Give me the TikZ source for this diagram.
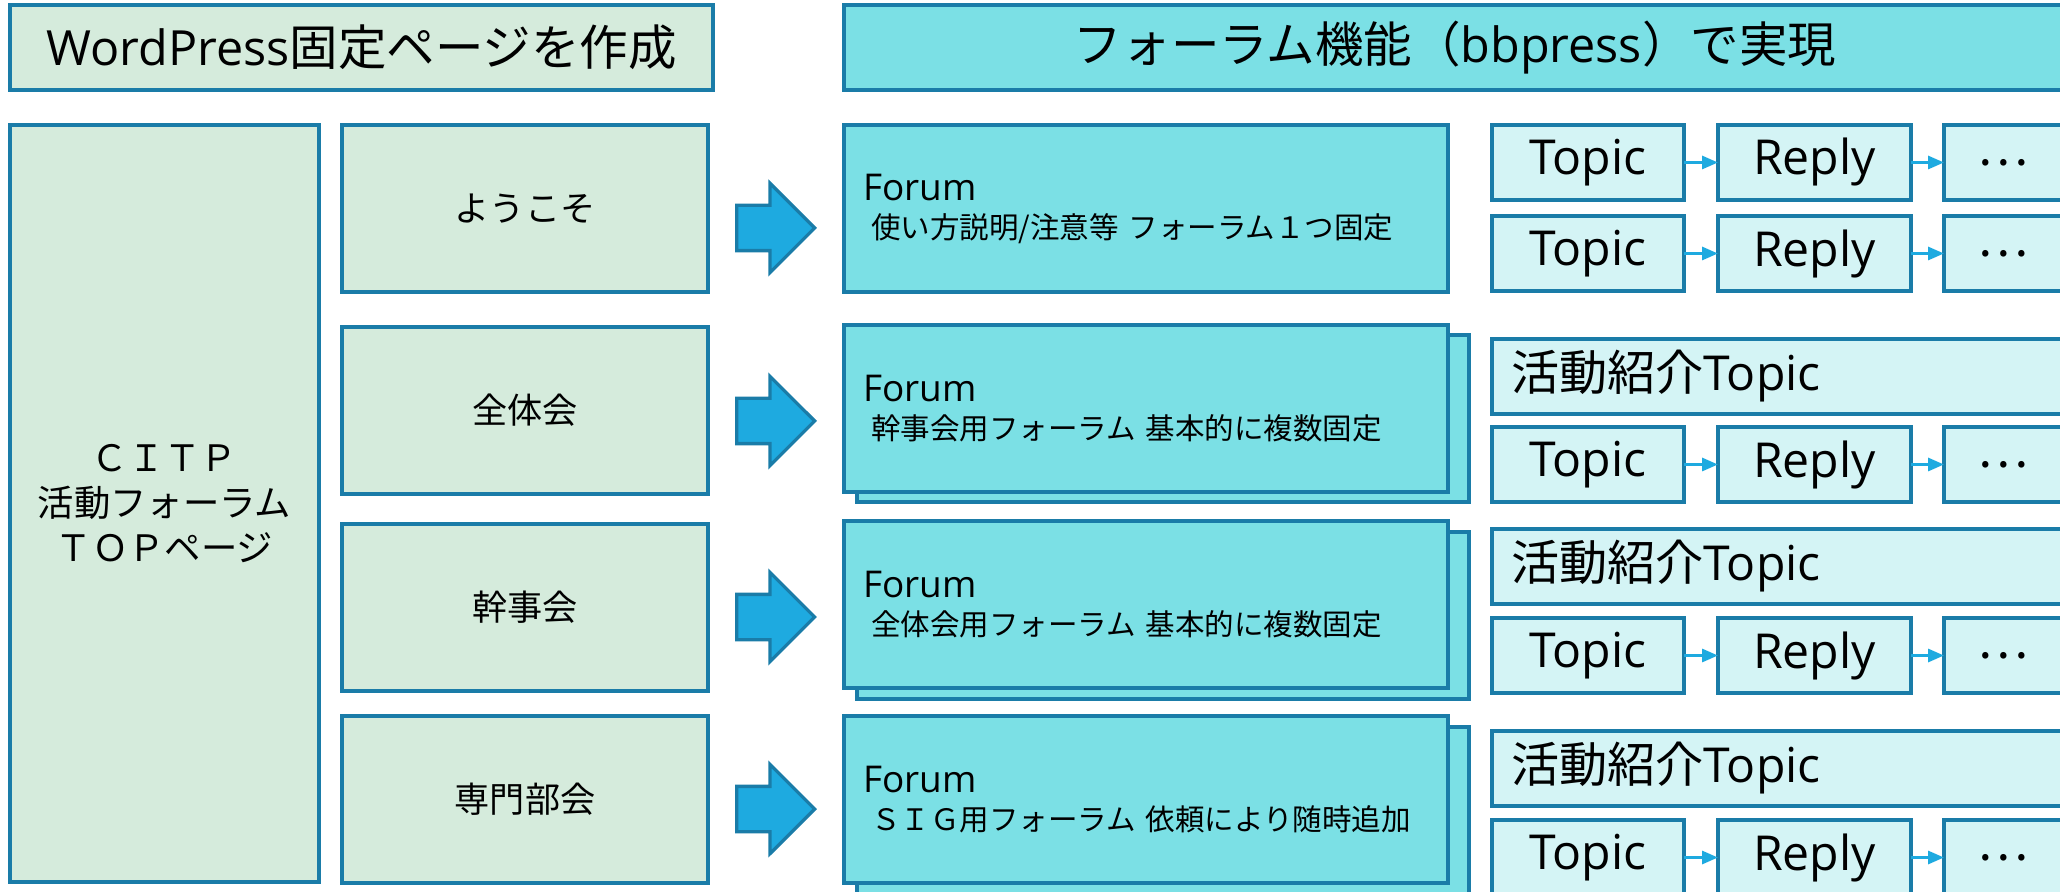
\documentclass[tikz,border=0pt]{standalone}
\usepackage{fontspec}
\setmainfont{Noto Sans CJK JP}
\newfontfamily\jpfont{Noto Sans CJK JP}
\newfontfamily\latin{Open Sans}
\usetikzlibrary{shapes.arrows,arrows.meta}

\definecolor{pagegreen}{RGB}{213,235,220}
\definecolor{edgeblue}{RGB}{26,124,168}
\definecolor{forumcyan}{RGB}{123,224,229}
\definecolor{topiccyan}{RGB}{212,244,245}
\definecolor{arrowblue}{RGB}{30,170,224}

\tikzset{
  cellbox/.style={draw=edgeblue, line width=0.33mm, inner sep=0pt, outer sep=0pt, anchor=north west},
  greenbox/.style={cellbox, fill=pagegreen},
  pagecell/.style={greenbox, minimum width=36.6mm, minimum height=16.7mm, font=\fontsize{10}{12}\selectfont},
  forumbox/.style={cellbox, fill=forumcyan},
  forumcell/.style={forumbox, minimum height=16.7mm, text width=56.6mm, inner xsep=1.9mm, align=left, font=\fontsize{8.4}{10.8}\selectfont},
  forumback/.style={forumbox, minimum width=61.2mm, minimum height=16.7mm},
  topicbox/.style={cellbox, fill=topiccyan, minimum height=7.5mm, font=\latin\fontsize{13.7}{16}\selectfont},
  headbox/.style={minimum height=8.5mm, font=\fontsize{13.8}{16}\selectfont},
  blockarrow/.style={single arrow, draw=edgeblue, line width=0.33mm, fill=arrowblue, inner xsep=0pt, inner ysep=2.1mm,
    minimum height=7.8mm, single arrow head extend=2.2mm, anchor=tail},
  link/.style={arrowblue, line width=0.3mm, -{Triangle[length=1.6mm,width=1.3mm]}}
}

\begin{document}
\begin{tikzpicture}[x=0.1mm, y=-0.1mm]
  \useasboundingbox (0,0) rectangle (2060,892);
  \clip (0,0) rectangle (2060,892);

  % headers
  \node[greenbox, headbox, minimum width=70.3mm] (hwp) at (10,5) {{\latin WordPress}固定ページを作成};
  \node[forumbox, headbox, minimum width=122.2mm] (hbb) at (844,5) {フォーラム機能（{\latin bbpress}）で実現};

  % WordPress pages
  \node[greenbox, minimum width=30.9mm, minimum height=75.7mm, align=center,
    font=\fontsize{10.35}{12.8}\selectfont] (ctp) at (10,125) {ＣＩＴＰ\\活動フォーラム\\ＴＯＰページ};
  \node[pagecell] (pg1) at (342,125) {ようこそ};
  \node[pagecell] (pg2) at (342,327) {全体会};
  \node[pagecell] (pg3) at (342,524) {幹事会};
  \node[pagecell] (pg4) at (342,716) {専門部会};

  \node[blockarrow] (ar1) at (735,228) {};
  \node[blockarrow] (ar2) at (735,421) {};
  \node[blockarrow] (ar3) at (735,617) {};
  \node[blockarrow] (ar4) at (735,809) {};

  % forums
  \node[forumback] (fb2) at (857,335) {};
  \node[forumback] (fb3) at (857,532) {};
  \node[forumback] (fb4) at (857,727) {};
  \node[forumcell] (fm1) at (844,125) {{\latin\fontsize{10.5}{12}\selectfont Forum}\\\hspace*{0.8mm}使い方説明/注意等 フォーラム１つ固定};
  \node[forumcell] (fm2) at (844,325) {{\latin\fontsize{10.5}{12}\selectfont Forum}\\\hspace*{0.8mm}幹事会用フォーラム 基本的に複数固定};
  \node[forumcell] (fm3) at (844,521) {{\latin\fontsize{10.5}{12}\selectfont Forum}\\\hspace*{0.8mm}全体会用フォーラム 基本的に複数固定};
  \node[forumcell] (fm4) at (844,716) {{\latin\fontsize{10.5}{12}\selectfont Forum}\\\hspace*{0.8mm}ＳＩＧ用フォーラム 依頼により随時追加};

  % topics
  \node[topicbox, text width=53.2mm, inner xsep=1.9mm, align=left] (act2) at (1492,339) {{\jpfont 活動紹介}Topic};
  \node[topicbox, text width=53.2mm, inner xsep=1.9mm, align=left] (act3) at (1492,529) {{\jpfont 活動紹介}Topic};
  \node[topicbox, text width=53.2mm, inner xsep=1.9mm, align=left] (act4) at (1492,731) {{\jpfont 活動紹介}Topic};

  \foreach \r/\y in {1a/125, 1b/216, 2/427, 3/618, 4/820} {
    \node[topicbox, minimum width=19.2mm] (tp\r) at (1492,\y) {Topic};
    \node[topicbox, minimum width=19.3mm] (rp\r) at (1718,\y) {Reply};
    \node[topicbox, minimum width=11.8mm] (dt\r) at (1944,\y) {\jpfont …};
    \draw[link] (tp\r) -- (rp\r);
    \draw[link] (rp\r) -- (dt\r);
  }
\end{tikzpicture}
\end{document}
